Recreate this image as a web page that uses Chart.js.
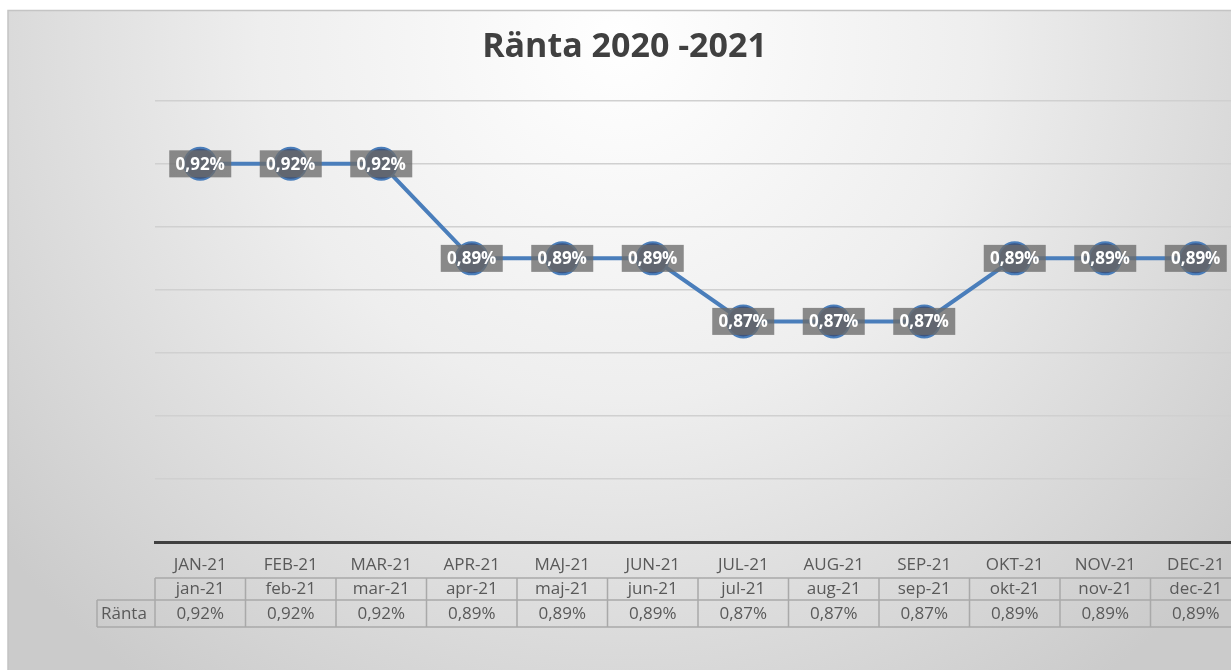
<!DOCTYPE html>
<html>
<head>
<meta charset="utf-8">
<title>Ränta 2020 -2021</title>
<script src="https://cdn.jsdelivr.net/npm/chart.js@4.4.1/dist/chart.umd.min.js"></script>
<style>
    html, body { margin: 0; padding: 0; overflow: hidden; background: #fff; }
    #rantaChart { display: block; }
</style>
</head>
<body>
<canvas id="rantaChart" width="1250" height="670"></canvas>
<script>
// data
const months = ['jan-21', 'feb-21', 'mar-21', 'apr-21', 'maj-21', 'jun-21',
                'jul-21', 'aug-21', 'sep-21', 'okt-21', 'nov-21', 'dec-21'];
const monthHeaders = ['JAN-21', 'FEB-21', 'MAR-21', 'APR-21', 'MAJ-21', 'JUN-21',
                      'JUL-21', 'AUG-21', 'SEP-21', 'OKT-21', 'NOV-21', 'DEC-21'];
const ranta = [0.92, 0.92, 0.92, 0.89, 0.89, 0.89, 0.87, 0.87, 0.87, 0.89, 0.89, 0.89];
const seriesName = 'Ränta';
const yMin = 0.80, yMax = 0.94, yStep = 0.02;

const FONT = '"Open Sans", "Noto Sans", sans-serif';

function fmt(v) {
    return v.toFixed(2).replace('.', ',') + '%';
}

// gray radial background like the Excel chart style
const backgroundPlugin = {
    id: 'bg',
    beforeDraw(chart) {
        const ctx = chart.ctx;
        const w = chart.width, h = chart.height;
        ctx.save();
        ctx.fillStyle = '#ffffff';
        ctx.fillRect(0, 0, w, h);
        const g = ctx.createRadialGradient(620, 40, 0, 620, 40, 800);
        g.addColorStop(0, '#ffffff');
        g.addColorStop(0.45, '#eeeeee');
        g.addColorStop(1, '#cbcbcb');
        ctx.fillStyle = g;
        ctx.fillRect(8, 10, w - 8, h - 10);
        ctx.strokeStyle = '#c4c4c4';
        ctx.lineWidth = 1.5;
        ctx.beginPath();
        ctx.moveTo(8, h);
        ctx.lineTo(8, 10.5);
        ctx.lineTo(w, 10.5);
        ctx.stroke();
        ctx.restore();
    }
};

// value boxes over the markers
const labelPlugin = {
    id: 'valueLabels',
    afterDatasetsDraw(chart) {
        const ctx = chart.ctx;
        const meta = chart.getDatasetMeta(0);
        ctx.save();
        ctx.font = 'bold 17px ' + FONT;
        ctx.textAlign = 'center';
        ctx.textBaseline = 'middle';
        meta.data.forEach((pt, i) => {
            const bw = 62, bh = 27;
            ctx.fillStyle = 'rgba(108,108,108,0.78)';
            ctx.fillRect(pt.x - bw / 2, pt.y - bh / 2, bw, bh);
            ctx.fillStyle = '#ffffff';
            ctx.fillText(fmt(ranta[i]), pt.x, pt.y + 1);
        });
        ctx.restore();
    }
};

// data table under the x axis
const tablePlugin = {
    id: 'dataTable',
    afterDraw(chart) {
        const ctx = chart.ctx;
        const x = chart.scales.x;
        const band = (x.right - x.left) / months.length;
        const rowTop = 578, rowMid = 600, rowBot = 627;
        const legendLeft = 97;
        ctx.save();
        ctx.font = '17px ' + FONT;
        ctx.fillStyle = '#595959';
        ctx.textAlign = 'center';
        ctx.textBaseline = 'middle';
        months.forEach((m, i) => {
            const cx = x.getPixelForValue(i);
            ctx.fillText(monthHeaders[i], cx, 565);
            ctx.fillText(m, cx, 589);
            ctx.fillText(fmt(ranta[i]), cx, 614);
        });
        ctx.textAlign = 'left';
        ctx.fillText(seriesName, legendLeft + 4, 614);

        ctx.strokeStyle = '#a9a9a9';
        ctx.lineWidth = 1.5;
        ctx.beginPath();
        ctx.moveTo(x.left, rowTop);
        ctx.lineTo(chart.width, rowTop);
        ctx.moveTo(legendLeft, rowMid);
        ctx.lineTo(chart.width, rowMid);
        ctx.moveTo(legendLeft, rowBot);
        ctx.lineTo(chart.width, rowBot);
        ctx.moveTo(legendLeft, rowMid);
        ctx.lineTo(legendLeft, rowBot);
        for (let i = 0; i <= months.length; i++) {
            const bx = x.left + band * i;
            ctx.moveTo(bx, rowTop);
            ctx.lineTo(bx, rowBot);
        }
        ctx.stroke();
        ctx.restore();
    }
};

const ctx = document.getElementById('rantaChart').getContext('2d');
window.rantaChart = new Chart(ctx, {
    type: 'line',
    data: {
        labels: months,
        datasets: [{
            label: seriesName,
            data: ranta,
            borderColor: '#4a7ebb',
            borderWidth: 4,
            tension: 0,
            pointRadius: 16,
            pointHoverRadius: 16,
            pointBackgroundColor: 'rgba(56,82,128,0.98)',
            pointBorderColor: '#4a7ebb',
            pointBorderWidth: 2
        }]
    },
    options: {
        responsive: false,
        animation: false,
        layout: {
            autoPadding: false,
            padding: { left: 8, top: 10, right: 9, bottom: 0 }
        },
        plugins: {
            legend: { display: false },
            tooltip: { enabled: false },
            title: {
                display: true,
                text: 'Ränta 2020 -2021',
                color: '#404040',
                font: { family: FONT, size: 34, weight: 'bold', lineHeight: 1.2 },
                padding: { top: 17, bottom: 33 }
            }
        },
        scales: {
            x: {
                offset: true,
                grid: { display: false },
                border: { display: true, color: '#404040', width: 3 },
                ticks: { display: false },
                afterFit(scale) { scale.height = 128; }
            },
            y: {
                min: yMin,
                max: yMax,
                ticks: { display: false, stepSize: yStep },
                grid: { color: '#d0d0d0', lineWidth: 1.5, drawTicks: false },
                border: { display: false },
                afterFit(scale) { scale.width = 147; }
            }
        }
    },
    plugins: [backgroundPlugin, labelPlugin, tablePlugin]
});
</script>
</body>
</html>
